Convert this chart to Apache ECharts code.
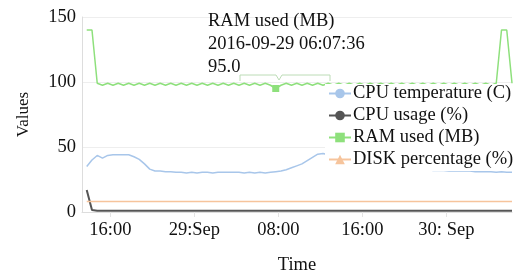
<!DOCTYPE html>
<html>
<head>
<meta charset="utf-8">
<title>System monitor</title>
<style>
html,body{margin:0;padding:0;background:#fff;}
#main{width:513px;height:273px;}
</style>
<script src="https://cdn.jsdelivr.net/npm/echarts@6/dist/echarts.min.js"></script>
</head>
<body>
<div id="main"></div>
<script>
// hours since 2016-09-28 00:00, one sample every half hour
var t0 = 13.75, step = 0.5;
var tickHours = [16, 24, 32, 40, 48];
var tickLabels = ['16:00', '29:Sep', '08:00', '16:00', '30: Sep'];
var seriesNames = ['CPU temperature (C)', 'CPU usage (%)', 'RAM used (MB)', 'DISK percentage (%)'];

var cpuTemp = [35,40,43.5,41.5,43.5,44,44,44,44,42.5,
  40.5,37,33,31.5,31.5,31,31,30.5,30.5,30,
  30.5,30,30.5,30.5,30,30.5,30.5,30.5,30.5,30.5,
  30,30.5,30,30.5,30,30.5,31,31.5,32.5,34,
  35.5,37,39.5,42,44.5,45,44,42,40,39,
  38,37.5,37,36.5,36,35.5,35,34.5,34,34,
  33.5,33.5,33,33,32.5,32.5,32,32,32,31.5,
  31.5,31.5,31.5,31.5,31,31,31,31,30.5,31,
  30.5,30.5];
var cpuUsage = [17,1.5,1,1,1,1,1,1,1,1,
  1,1,1,1,1,1,1,1,1,1,
  1,1,1,1,1,1,1,1,1,1,
  1,1,1,1,1,1,1,1,1,1,
  1,1,1,1,1,1,1,1,1,1,
  1,1,1,1,1,1,1,1,1,1,
  1,1,1,1,1,1,1,1,1,1,
  1,1,1,1,1,1,1,1,1,1,
  1,1];
var ramUsed = [140,140,99,97.5,99,97.5,99,97.5,99,97.5,
  99,97.5,99,97.5,99,97.5,99,97.5,99,97.5,
  99,97.5,99,97.5,99,97.5,99,97.5,99,97.5,
  99,97.5,99,97.5,99,97.5,95,97.5,99,97.5,
  99,97.5,99,97.5,99,97.5,99,97.5,99,97.5,
  99,97.5,99,97.5,99,97.5,99,97.5,99,97.5,
  99,97.5,99,97.5,99,97.5,99,97.5,99,97.5,
  99,97.5,99,97.5,99,97.5,99,97.5,99,140,
  140,99];
var diskPct = [8,8,8,8,8,8,8,8,8,8,
  8,8,8,8,8,8,8,8,8,8,
  8,8,8,8,8,8,8,8,8,8,
  8,8,8,8,8,8,8,8,8,8,
  8,8,8,8,8,8,8,8,8,8,
  8,8,8,8,8,8,8,8,8,8,
  8,8,8,8,8,8,8,8,8,8,
  8,8,8,8,8,8,8,8,8,8,
  8,8];
var hoverIdx = 36;

function pairs(arr) {
  return arr.map(function (v, i) { return [t0 + i * step, v]; });
}

var font = 'Liberation Serif';
var fs = 18.5;
var colors = ['#a8c6ea', '#555555', '#8ee07c', '#f6c49c'];
var symbols = ['circle', 'circle', 'rect', 'triangle'];
var values = [cpuTemp, cpuUsage, ramUsed, diskPct];

var series = seriesNames.map(function (name, k) {
  var s = {
    name: name,
    type: 'line',
    data: pairs(values[k]),
    showSymbol: false,
    symbol: symbols[k],
    symbolSize: 6,
    lineStyle: { width: k === 1 ? 2 : 1.5, color: colors[k] },
    itemStyle: { color: colors[k] },
    z: k === 2 ? 3 : 2
  };
  if (k === 2) {
    s.markPoint = {
      symbol: 'rect',
      symbolSize: 7,
      label: { show: false },
      itemStyle: { color: colors[2] },
      data: [{ coord: [t0 + hoverIdx * step, ramUsed[hoverIdx]] }]
    };
  }
  return s;
});

var myChart = echarts.init(document.getElementById('main'));
myChart.setOption({
  animation: false,
  textStyle: { fontFamily: font },
  grid: { left: 82, right: 1, top: 17, bottom: 61, outerBoundsMode: 'none' },
  xAxis: {
    type: 'value',
    min: 13.3,
    max: 54.25,
    name: 'Time',
    nameLocation: 'middle',
    nameGap: 44,
    nameTextStyle: { fontFamily: font, fontSize: fs, color: '#111' },
    axisLine: { lineStyle: { color: '#dddddd' } },
    axisTick: { show: true, customValues: tickHours, lineStyle: { color: '#e4e4e4' } },
    axisLabel: {
      customValues: tickHours,
      fontFamily: font, fontSize: fs, color: '#111', margin: 9,
      formatter: function (v) {
        var i = tickHours.indexOf(v);
        return i >= 0 ? tickLabels[i] : '';
      }
    },
    splitLine: { show: false }
  },
  yAxis: {
    type: 'value',
    min: 0,
    max: 150,
    interval: 50,
    name: 'Values',
    nameLocation: 'middle',
    nameGap: 50,
    nameTextStyle: { fontFamily: font, fontSize: 17, color: '#111' },
    axisLine: { show: true, lineStyle: { color: '#dddddd' } },
    axisTick: { show: false },
    axisLabel: { fontFamily: font, fontSize: fs, color: '#111', margin: 6 },
    splitLine: { lineStyle: { color: '#eeeeee' } }
  },
  legend: {
    orient: 'vertical',
    left: 325,
    top: 84,
    padding: [0, 4, 2, 3],
    backgroundColor: '#ffffff',
    itemWidth: 22,
    itemHeight: 12,
    itemGap: 3,
    textStyle: { fontFamily: font, fontSize: fs, color: '#111', padding: [0, 0, 0, -3] },
    data: seriesNames
  },
  graphic: [{
    type: 'text',
    left: 208,
    top: 10,
    z: 100,
    silent: true,
    style: {
      text: seriesNames[2] + '\n2016-09-29 06:07:36\n' + ramUsed[hoverIdx].toFixed(1),
      fontFamily: font,
      fontSize: fs,
      lineHeight: 23,
      fill: '#111'
    }
  }, {
    // tooltip pointer bracket
    type: 'polyline',
    silent: true,
    z: 99,
    shape: { points: [[240, 81], [240, 75], [276, 75], [279, 80], [282, 75], [330, 75], [330, 81]] },
    style: { stroke: '#bcdcb6', lineWidth: 1, fill: null }
  }],
  series: series
});
</script>
</body>
</html>
